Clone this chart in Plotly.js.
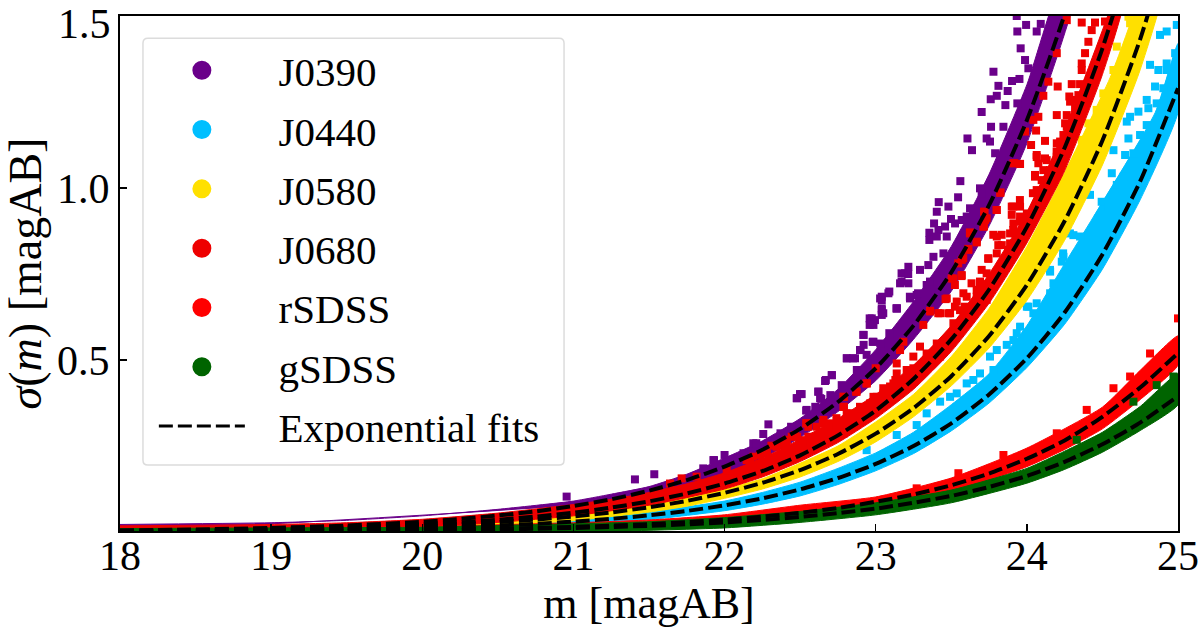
<!DOCTYPE html>
<html><head><meta charset="utf-8">
<script src="https://cdn.plot.ly/plotly-3.0.1.min.js"></script>
<style>html,body{margin:0;padding:0;background:#fff}#c{width:1200px;height:638px}</style>
</head><body><div id="c"></div>
<script>
// Series names and colours
const names = ["J0390","J0440","J0580","J0680","rSDSS","gSDSS"];
const colors = ["#6a008a","#00bfff","#ffe000","#ee0000","#ff0000","#006400"];
const fitName = "Exponential fits";
const xTicks = [18,19,20,21,22,23,24,25];
const yTicks = [0.5,1.0,1.5];
const yTickText = ["0.5","1.0",""];
const topTickLabel = "1.5";

// Exponential fit curves
const fitX = [18,18.5,19,19.5,20,20.25,20.5,20.75,21,21.25,21.5,21.75,22,22.25,22.5,22.75,23,23.25,23.5,23.75,24,24.25,24.5,24.75,25];
const fitJ0390 = [.0048,.0076,.012,.019,.030,.038,.048,.060,.076,.095,.120,.151,.190,.239,.300,.378,.476,.600,.755,.950,1.197,1.505,1.9,2.39,3.0];
const fitJ0440 = [.0018,.003,.0047,.0075,.0119,.015,.019,.024,.0304,.0384,.0485,.0613,.0775,.098,.124,.157,.198,.25,.316,.40,.505,.638,.807,1.02,1.29];
const fitJ0580 = [.0029,.0045,.0072,.0114,.018,.0227,.0286,.036,.0453,.057,.072,.0905,.114,.143,.180,.227,.286,.360,.453,.570,.718,.904,1.138,1.433,1.80];
const fitJ0680 = [.0035,.0056,.0089,.0141,.0223,.028,.0355,.045,.056,.071,.089,.112,.141,.177,.223,.281,.353,.445,.560,.705,.887,1.117,1.406,1.77,2.23];
const fitrSDSS = [.001,.0016,.0025,.0039,.006,.0075,.0095,.012,.015,.0187,.023,.029,.036,.045,.056,.07,.088,.109,.136,.170,.213,.266,.335,.42,.52];
const fitgSDSS = [.0008,.0013,.002,.0031,.0048,.006,.0075,.0094,.0117,.0145,.018,.0225,.028,.035,.044,.055,.068,.085,.105,.131,.163,.204,.255,.318,.395];

// Dense part of each point cloud: upper and lower edges
const bandUpJ0390X = [18,19,19.5,20,20.5,21,21.25,21.5,21.75,22,22.25,22.5,22.75,23,23.25,23.5,23.75,24,24.25];
const bandUpJ0390Y = [.022,.027,.034,.047,.066,.09,.11,.132,.168,.215,.265,.33,.415,.53,.67,.83,1.04,1.30,1.62];
const bandLoJ0390X = [18,21.5,22,22.25,22.5,22.75,23,23.25,23.5,23.75,24,24.35];
const bandLoJ0390Y = [0,.10,.17,.215,.275,.35,.44,.56,.70,.89,1.13,1.62];
const bandUpJ0440X = [18,20,20.5,21,21.5,22,22.25,22.5,22.75,23,23.25,23.5,23.75,24,24.25,24.44,24.85,25];
const bandUpJ0440Y = [.004,.012,.023,.036,.058,.09,.115,.145,.185,.23,.29,.37,.46,.60,.78,.916,1.22,1.42];
const bandLoJ0440X = [18,20.5,21,21.5,22,22.25,22.5,22.75,23,23.25,23.5,23.75,24,24.25,24.5,24.75,25];
const bandLoJ0440Y = [0,.01,.02,.036,.062,.081,.105,.138,.178,.228,.294,.375,.478,.604,.764,.966,1.22];
const bandUpJ0580X = [18,20,20.5,21,21.5,21.75,22,22.25,22.5,22.75,23,23.25,23.5,23.75,24,24.2,24.55,24.7,24.75];
const bandUpJ0580Y = [.005,.02,.033,.052,.08,.10,.125,.155,.20,.25,.32,.40,.51,.65,.83,1.0,1.32,1.5,1.6];
const bandLoJ0580X = [18,20,20.5,21,21.5,21.75,22,22.25,22.5,22.75,23,23.25,23.5,23.75,24,24.25,24.5,24.75,24.92];
const bandLoJ0580Y = [0,.008,.018,.033,.058,.075,.098,.125,.16,.205,.262,.335,.425,.535,.673,.848,1.067,1.344,1.62];
const bandUpJ0680X = [18,19,19.5,20,20.5,21,21.25,21.5,21.75,22,22.25,22.5,22.75,23,23.25,23.5,23.75,24,24.25,24.55,24.6];
const bandUpJ0680Y = [.018,.022,.027,.037,.055,.08,.095,.115,.14,.172,.215,.27,.33,.40,.485,.60,.75,.93,1.17,1.52,1.6];
const bandLoJ0680X = [18,20,20.5,21,21.5,21.75,22,22.25,22.5,22.75,23,23.25,23.5,23.75,24,24.25,24.5,24.65];
const bandLoJ0680Y = [0,.015,.028,.047,.078,.10,.125,.16,.205,.26,.33,.415,.525,.665,.84,1.05,1.33,1.56];
const bandUprSDSSX = [18,20,21,21.5,22,22.5,23,23.5,24,24.5,24.75,25];
const bandUprSDSSY = [.008,.016,.027,.035,.05,.078,.102,.157,.244,.363,.47,.57];
const bandLorSDSSX = [18,21,22,22.5,23,23.5,24,24.25,24.5,24.75,25];
const bandLorSDSSY = [0,.005,.02,.04,.07,.115,.19,.24,.30,.385,.485];
const bandUpgSDSSX = [18,19,20,20.5,21,21.5,22,22.5,23,23.5,24,24.25,24.5,24.75,25];
const bandUpgSDSSY = [.01,.012,.014,.019,.024,.03,.042,.06,.085,.122,.185,.235,.29,.365,.46];
const bandLogSDSSX = [18,21,22,22.5,23,23.5,24,24.25,24.5,24.75,25];
const bandLogSDSSY = [0,0,.012,.028,.05,.085,.142,.182,.232,.295,.37];

// Scattered points read one by one
const ptsJ0390X = [23.933,23.995,23.937,24.092,24.065,23.959,23.988,24.010,23.779,23.951,23.902,23.812,23.873,23.801,23.761,23.858,23.701,23.937,23.763,23.845,23.607,23.734,23.756,23.637,23.790,23.560,23.690,23.701,23.545,23.417,23.481,23.404,23.624,23.498,23.386,23.355,23.415,23.459,23.355,23.404,23.470,23.525,23.382,23.448,23.216,23.348,23.293,23.602,23.569,23.194,23.216,23.161,23.084,23.029,23.040,23.139,23.040,22.974,22.985,22.918,22.896,22.985,22.808,22.863,22.709,22.665,22.621,22.499,22.477,22.632,23.271,23.337,23.227,20.955,21.407,21.535,21.926,22.29,22.256,22.51,22.62,22.543,21.859,22.19,21.93,22.21,22.48,22.64,22.67,22.71,22.54,22.81,22.85,22.92,22.98,22.96,22.995,22.96,23.04,23.14,23.04,22.90,22.92,22.94,23.03,23.09,22.875,22.775,22.70,22.6,22.44,22.37,22.125,22.0,23.171,23.171,23.215,23.09,23.04,23.226,23.28,23.05,23.138,23.359];
const ptsJ0390Y = [1.5,1.474,1.455,1.477,1.455,1.406,1.372,1.348,1.338,1.317,1.311,1.297,1.282,1.268,1.258,1.241,1.221,1.246,1.178,1.178,1.144,1.144,1.135,1.11,1.101,1.020,.999,.985,.973,.959,.946,.931,.941,.910,.897,.870,.878,.888,.849,.859,.859,.897,.800,.810,.771,.776,.762,.917,.907,.752,.723,.723,.694,.679,.645,.650,.631,.621,.602,.573,.529,.553,.505,.505,.456,.439,.408,.401,.389,.389,.689,.718,.679,.103,.153,.168,.209,.313,.285,.401,.408,.355,.185,.258,.209,.258,.389,.387,.442,.456,.353,.505,.505,.573,.553,.621,.616,.602,.650,.650,.674,.529,.544,.515,.548,.578,.471,.427,.398,.364,.306,.287,.229,.224,.752,.728,.75,.699,.684,.684,.694,.636,.650,.728];
const ptsJ0440X = [24.925,24.881,24.992,24.981,24.992,24.815,24.870,24.925,24.925,24.848,24.903,24.804,24.738,24.683,24.661,24.859,24.672,24.573,24.650,24.562,24.595,24.418,24.495,24.539,24.573,24.308,24.352,24.242,24.231,24.793,24.749,24.705,24.639,24.793,24.154,24.176,24.264,24.154,24.065,24.010,23.955,23.933,23.867,23.801,23.690,23.779,23.492,23.426,23.337,23.271,23.139,22.940,23.602,24.043,23.911,23.756,23.646,23.536,24.0,24.153,24.24,24.285];
const ptsJ0440Y = [1.455,1.445,1.474,1.392,1.372,1.358,1.343,1.362,1.343,1.295,1.290,1.232,1.222,1.207,1.193,1.246,1.144,1.110,1.096,1.043,1.009,.980,.960,.946,.975,.863,.859,.800,.786,1.183,1.154,1.101,1.033,1.256,.757,.723,.737,.694,.665,.655,.597,.578,.544,.529,.461,.471,.393,.379,.345,.311,.282,.238,.432,.636,.558,.510,.442,.403,.655,.762,.81,.868];
const ptsJ0580X = [24.683,24.793,24.672,24.595,24.650,24.573,24.506,24.551,24.462,24.407,24.484,24.363,24.286,24.242,24.198,24.131];
const ptsJ0580Y = [1.479,1.498,1.498,1.411,1.372,1.343,1.275,1.256,1.227,1.188,1.198,1.140,1.052,1.023,.965,.897];
const ptsJ0680X = [24.264,24.363,24.451,24.517,24.429,24.407,24.385,24.363,24.363,24.198,24.142,24.204,24.297,24.352,24.109,24.281,24.286,24.341,24.319,24.198,24.264,24.043,24.076,24.253,23.988,24.061,24.242,24.220,24.120,24.028,24.065,23.911,23.955,24.076,24.131,24.198,24.054,24.098,24.065,23.823,24.131,23.717,23.801,23.900,23.955,23.723,23.712,23.955,23.911,23.988,23.889,23.801,23.834,23.911,23.668,23.745,23.624,23.613,23.569,23.701,23.801,23.867,23.889,23.977,24.021,24.087,24.153,24.198,24.264,24.308,23.514,23.569,23.470,23.536,23.690,23.668,23.602,23.558,23.492,23.426,23.360,23.315,23.183,23.161,23.139,23.139,22.940,22.874,22.786,22.786,22.808,22.610,22.554,22.444,22.698,22.499,22.411,23.293,23.404,23.514,23.602,23.249,23.095,23.007,22.963,22.654,22.742,22.554,22.588,23.337,23.426,23.492,23.558,23.646,23.734,23.779,23.205,23.249,23.337,23.426,23.117,23.051,22.896,22.841,21.716,21.639,21.815,22.014,22.146,22.345,22.466,22.543,22.234,22.389,22.17,22.19,22.28,22.41,22.48,22.54,22.65,22.74,22.57,22.68,22.79,22.90,22.985,23.05,23.13,22.79,22.87,22.94,23.0,22.79,22.31,23.811,23.877,23.778,23.833,23.91,23.90,23.91,23.954,24.0,23.954,24.04,24.054,24.065,24.12,24.197,24.109,24.13,24.02,23.932,23.866,23.69,23.734,23.634,23.58,23.524,23.48,23.668,23.59,23.745,23.462,23.414,23.359,23.524,23.568,23.917,23.954,23.826,23.8,23.72,23.734,23.716,23.623,23.668,23.612,23.579,23.546,23.502];
const ptsJ0680Y = [1.488,1.481,1.481,1.484,1.459,1.425,1.392,1.362,1.343,1.392,1.309,1.295,1.302,1.302,1.268,1.266,1.251,1.270,1.232,1.212,1.212,1.198,1.207,1.188,1.164,1.167,1.154,1.135,1.137,1.125,1.096,1.072,1.070,1.072,1.081,1.091,1.033,1.023,.994,.986,.994,.931,.936,.946,.946,.907,.888,.917,.897,.888,.868,.859,.834,.820,.844,.796,.868,.820,.791,.762,.810,.796,.839,.859,.917,.965,1.052,1.130,1.178,1.256,.737,.747,.679,.670,.723,.704,.684,.645,.636,.636,.641,.602,.553,.529,.490,.461,.432,.408,.393,.364,.345,.306,.306,.277,.316,.267,.253,.539,.548,.607,.626,.510,.423,.393,.374,.326,.306,.277,.258,.519,.529,.568,.587,.636,.675,.713,.471,.476,.490,.510,.432,.403,.364,.345,.156,.141,.161,.18,.209,.248,.282,.316,.224,.253,.21,.219,.229,.268,.277,.316,.316,.331,.258,.287,.287,.335,.393,.418,.442,.364,.408,.432,.476,.393,.251,.834,.82,.864,.864,.878,.922,.946,.965,.926,.902,.985,1.038,1.09,1.086,1.106,1.052,1.018,.897,.854,.791,.728,.752,.723,.694,.655,.636,.684,.655,.794,.677,.636,.643,.718,.744,1.072,1.07,.987,.936,.931,.912,.888,.871,.842,.823,.796,.781,.737];
const ptsrSDSSX = [24.815,25.0,24.683,24.573,24.396,24.198,23.845,23.547,23.271];
const ptsrSDSSY = [.519,.621,.452,.418,.355,.287,.224,.171,.127];
const ptsgSDSSX = [24.859,24.705,24.970,24.330];
const ptsgSDSSY = [.427,.379,.452,.268];

const fits = [fitJ0390,fitJ0440,fitJ0580,fitJ0680,fitrSDSS,fitgSDSS];
const bands = [
 [bandUpJ0390X,bandUpJ0390Y,bandLoJ0390X,bandLoJ0390Y],
 [bandUpJ0440X,bandUpJ0440Y,bandLoJ0440X,bandLoJ0440Y],
 [bandUpJ0580X,bandUpJ0580Y,bandLoJ0580X,bandLoJ0580Y],
 [bandUpJ0680X,bandUpJ0680Y,bandLoJ0680X,bandLoJ0680Y],
 [bandUprSDSSX,bandUprSDSSY,bandLorSDSSX,bandLorSDSSY],
 [bandUpgSDSSX,bandUpgSDSSY,bandLogSDSSX,bandLogSDSSY]];
const pts = [[ptsJ0390X,ptsJ0390Y],[ptsJ0440X,ptsJ0440Y],[ptsJ0580X,ptsJ0580Y],[ptsJ0680X,ptsJ0680Y],[ptsrSDSSX,ptsrSDSSY],[ptsgSDSSX,ptsgSDSSY]];

const serif = "Liberation Serif, serif";
const data = [];
names.forEach((n,i)=>{
  const b = bands[i];
  data.push({x:b[0].concat(b[2].slice().reverse()), y:b[1].concat(b[3].slice().reverse()), mode:'lines', fill:'toself', fillcolor:colors[i], line:{color:colors[i],width:1,shape:'spline',smoothing:0.5}, showlegend:false, hoverinfo:'skip'});
  data.push({x:pts[i][0], y:pts[i][1], mode:'markers', marker:{symbol:'square',size:8,color:colors[i]}, showlegend:false, name:n});
});
fits.forEach((f,i)=>{
  data.push({x:fitX, y:f, mode:'lines', line:{color:'#000',width:4,dash:'14px,5px',shape:'spline',smoothing:0.6}, showlegend:false, name:fitName+' '+names[i]});
});
// legend entries
const pad = '\u2002\u2009';
names.forEach((n,i)=>{
  data.push({x:[null], y:[null], mode:'markers', marker:{size:16,color:colors[i],line:{color:colors[i],width:3}}, name:pad+n, legendgroup:n, showlegend:true});
});
data.push({x:[null], y:[null], mode:'lines', line:{color:'#000',width:3,dash:'14px,5px'}, name:pad+fitName, legendgroup:'fit', showlegend:true});

const tickFont = {family:serif,size:42};
const layout = {
  width:1200, height:638, paper_bgcolor:'#fff', plot_bgcolor:'#fff',
  margin:{l:120,r:22,t:16,b:107},
  font:{family:serif,color:'#000',size:41},
  showlegend:true,
  legend:{x:0.032,xanchor:'left',y:0.959,yanchor:'top',bgcolor:'rgba(0,0,0,0)',borderwidth:0,itemwidth:86,traceorder:'grouped',tracegroupgap:3,font:{family:serif,size:41,color:'#000'},itemclick:false,itemdoubleclick:false},
  xaxis:{range:[18,25],tickvals:xTicks,ticktext:xTicks.map(String),ticks:'inside',ticklen:7,tickwidth:1.5,tickcolor:'#000',linecolor:'#000',linewidth:2,mirror:true,showgrid:false,zeroline:false,tickfont:tickFont,ticklabelstandoff:-13,ticklabeloverflow:'allow',title:{text:'m [magAB]',font:{family:serif,size:44},standoff:6}},
  yaxis:{range:[0.003,1.5],tickvals:yTicks,ticktext:yTickText,ticks:'inside',ticklen:7,tickwidth:1.5,tickcolor:'#000',linecolor:'#000',linewidth:2,mirror:true,showgrid:false,zeroline:false,tickfont:tickFont,ticklabeloverflow:'allow',title:{text:'<i>σ</i>(<i>m</i>) [magAB]',font:{family:serif,size:46},standoff:21}},
  annotations:[{text:topTickLabel,xref:'paper',yref:'paper',x:0,y:1,xanchor:'right',yanchor:'top',xshift:-8,yshift:16,showarrow:false,font:tickFont,borderpad:0}],
  shapes:[{type:'path',xref:'paper',yref:'paper',layer:'below',
    path:'M 0.0264 0.957 L 0.415 0.957 Q 0.4197 0.957 0.4197 0.947 L 0.4197 0.138 Q 0.4197 0.128 0.415 0.128 L 0.0264 0.128 Q 0.0217 0.128 0.0217 0.138 L 0.0217 0.947 Q 0.0217 0.957 0.0264 0.957 Z',
    line:{color:'#dcdcdc',width:1.5},fillcolor:'#fff'}]
};
Plotly.newPlot('c',data,layout,{displayModeBar:false,staticPlot:true});
</script></body></html>
